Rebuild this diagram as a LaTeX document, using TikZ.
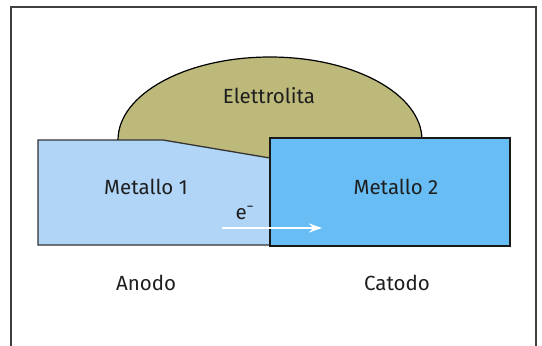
\documentclass[tikz,border=0pt]{standalone}
\usepackage{fontspec}
\setmainfont{Fira Sans}
\usetikzlibrary{arrows.meta}
\definecolor{olivefill}{RGB}{189,185,122}
\definecolor{metalA}{RGB}{176,213,246}
\definecolor{metalB}{RGB}{104,190,244}
\definecolor{inkdark}{RGB}{30,30,30}
\tikzset{
  label text/.style={font=\fontsize{20.5}{24}\selectfont, text=inkdark, anchor=base, inner sep=0pt},
}
\begin{document}
\begin{tikzpicture}[x=1pt,y=-1pt]
  \useasboundingbox (0,0) rectangle (542,346);
  % open frame (no bottom edge)
  \draw[line width=1.5pt, draw=black!75] (11,346) -- (11,7) -- (536,7) -- (536,346);
  % electrolyte drop
  \draw[line width=1.2pt, fill=olivefill] (270,140) ellipse [x radius=152, y radius=83];
  % metal 1 (anode) with bevelled top
  \draw[line width=1.3pt, draw=black!80, fill=metalA]
    (38,140) -- (163,140) -- (270,158) -- (270,245) -- (38,245) -- cycle;
  % metal 2 (cathode)
  \draw[line width=2.8pt, draw=black!90, fill=metalB] (270,138) rectangle (510,246);
  % labels
  \node[label text] (elettr) at (269,103) {Elettrolita};
  \node[label text] (met1) at (146,194) {Metallo 1};
  \node[label text] (met2) at (396,194) {Metallo 2};
  \node[label text] (anodo) at (146,290) {Anodo};
  \node[label text] (catodo) at (397,290) {Catodo};
  \node[label text] (elec) at (245,219) {e\textsuperscript{−}};
  % electron flow
  \coordinate (eStart) at (222,228);
  \coordinate (eEnd) at (322,228);
  \draw[white, line width=2.4pt, -{Stealth[length=13pt,width=9pt]}] (eStart) -- (eEnd);
\end{tikzpicture}
\end{document}
